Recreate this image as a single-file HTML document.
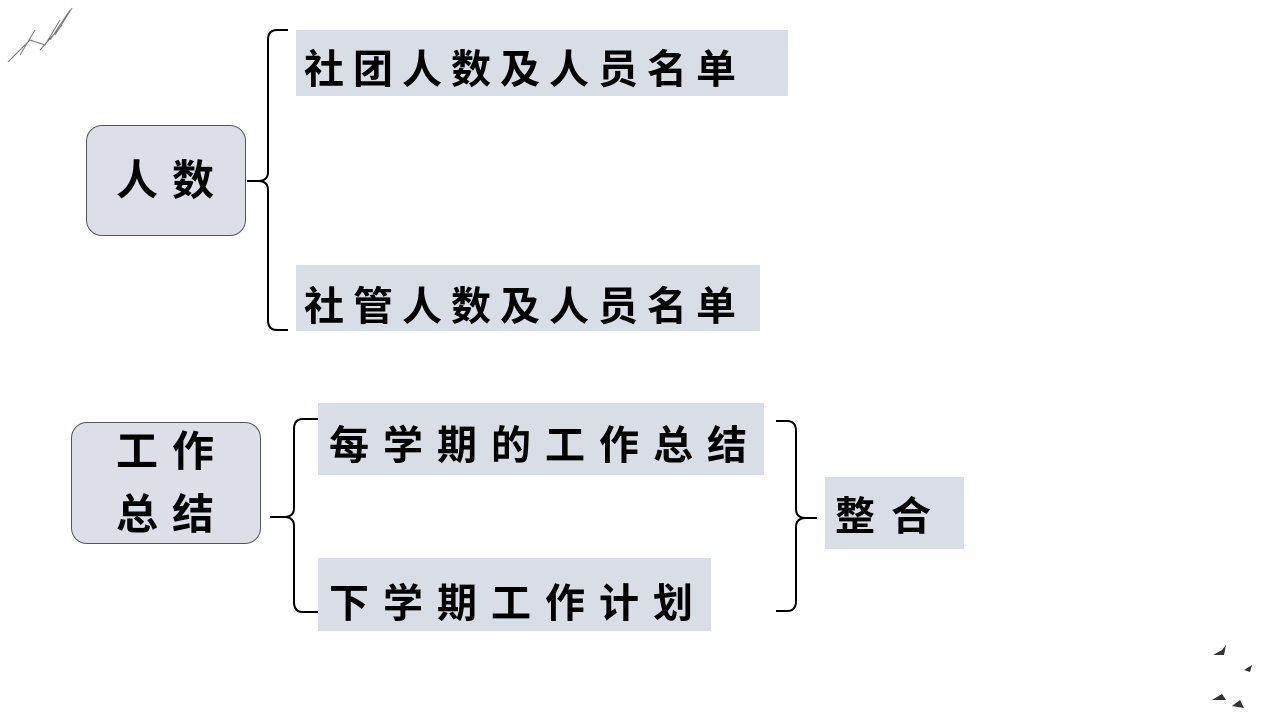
<!DOCTYPE html>
<html><head><meta charset="utf-8"><style>
body{margin:0;width:1280px;height:720px;background:#fff;position:relative;overflow:hidden;font-family:"Liberation Sans","Noto Sans CJK SC",sans-serif;}
.b{position:absolute;background:#d9dde6;color:#000;font-weight:bold;font-size:40px;letter-spacing:9px;box-sizing:border-box;display:flex;align-items:center;white-space:nowrap;}
.n{position:absolute;background:#dcdfe8;border:1px solid #555;border-radius:16px;box-sizing:border-box;display:flex;align-items:center;justify-content:center;text-align:center;font-weight:bold;font-size:42px;letter-spacing:14px;line-height:63px;}
svg{position:absolute;left:0;top:0}
</style></head><body>
<svg width="1280" height="720">
<g fill="none" stroke="#000" stroke-width="2">
<path d="M288 30 H277 Q268 30 268 40 V172 Q268 181 258 181 H247 M258 181 Q268 181 268 190 V320 Q268 330 277 330 H288"/>
<path d="M318 419 H303 Q294 419 294 429 V508 Q294 517 284 517 H270 M284 517 Q294 517 294 526 V602 Q294 612 303 612 H318"/>
<path d="M776 421 H787 Q796 421 796 431 V509 Q796 518 806 518 H817 M806 518 Q796 518 796 527 V601 Q796 611 787 611 H776"/>
</g>
<g stroke="#777" stroke-width="1" fill="none">
<path d="M8 62 L30 40 L45 45 L60 20 M20 55 L35 30 M50 40 L70 10 M55 35 L72 8 M40 50 L62 25"/>
</g>
<g fill="#333"><path d="M1213 655 L1222 650 L1226 645 L1224 655 Z"/><path d="M1244 670 L1252 665 L1250 672Z"/><path d="M1212 700 L1222 694 L1226 700 Z"/><path d="M1232 706 L1240 700 L1244 708Z"/></g>
</svg>
<div class="b" style="left:296px;top:30px;width:492px;height:66px;padding-left:8px;padding-top:6px">社团人数及人员名单</div>
<div class="b" style="left:296px;top:265px;width:464px;height:66px;padding-left:8px;padding-top:10px">社管人数及人员名单</div>
<div class="n" style="left:86px;top:125px;width:160px;height:111px;padding-left:12px">人数</div>
<div class="n" style="left:71px;top:422px;width:190px;height:122px;padding-left:12px">工作<br>总结</div>
<div class="b" style="left:318px;top:403px;width:446px;height:72px;padding-left:11px;padding-top:6px;letter-spacing:14px">每学期的工作总结</div>
<div class="b" style="left:318px;top:558px;width:393px;height:73px;padding-left:11px;padding-top:10px;letter-spacing:14px">下学期工作计划</div>
<div class="b" style="left:825px;top:477px;width:139px;height:72px;padding-left:10px;letter-spacing:16px">整合</div>
</body></html>
